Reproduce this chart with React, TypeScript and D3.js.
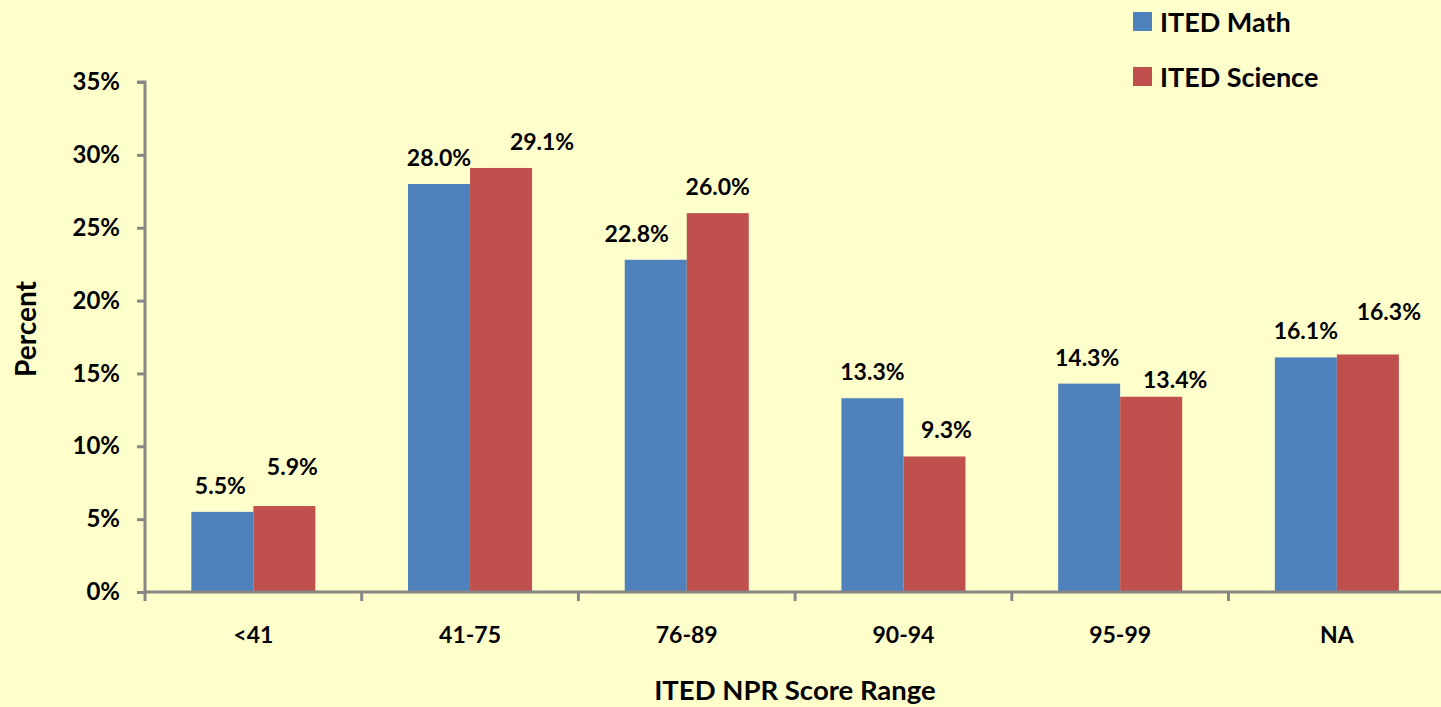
import React, { useEffect, useRef } from "react";
import * as d3 from "d3";

const categories = ["<41", "41-75", "76-89", "90-94", "95-99", "NA"];
const seriesNames = ["ITED Math", "ITED Science"];
const mathValues = [5.5, 28.0, 22.8, 13.3, 14.3, 16.1];
const scienceValues = [5.9, 29.1, 26.0, 9.3, 13.4, 16.3];
const yTicks = [0, 5, 10, 15, 20, 25, 30, 35];
const yTitle = "Percent";
const xTitle = "ITED NPR Score Range";

// label nudges (dx, dy in px) relative to the default above-bar placement
const mathLabelNudge: [number, number][] = [[-2, 0], [0, 0], [-19, 0], [0, 0], [-2, 0], [0, 0]];
const scienceLabelNudge: [number, number][] = [[8, -13], [41, 0], [0, 0], [12, 0], [24, 9], [21, -16]];

const W = 1441;
const H = 707;
const COLORS = ["#4F81BD", "#C0504D"];
const BG = "#FFFFCC";
const AXIS = "#868686";
const FONT = "Lato, 'Open Sans', sans-serif";

export default function App() {
  const ref = useRef<SVGSVGElement>(null);

  useEffect(() => {
    const svg = d3.select(ref.current);
    svg.selectAll("*").remove();

    const left = 145;
    const bottom = 592;
    const top = 82;
    const band = 216.7;

    const x = d3
      .scaleBand<string>()
      .domain(categories)
      .range([left, left + band * categories.length])
      .padding(0);
    const xs = d3
      .scaleBand<string>()
      .domain(seriesNames)
      .range([0, x.bandwidth()])
      .paddingInner(0)
      .paddingOuter(0.747);
    const y = d3.scaleLinear().domain([0, 35]).range([bottom, top]);

    svg.append("rect").attr("width", W).attr("height", H).attr("fill", BG);

    const series = [mathValues, scienceValues];
    const nudges = [mathLabelNudge, scienceLabelNudge];

    series.forEach((vals, si) => {
      const g = svg.append("g");
      g.selectAll("rect")
        .data(vals)
        .join("rect")
        .attr("x", (_, i) => (x(categories[i]) as number) + (xs(seriesNames[si]) as number))
        .attr("y", (d) => y(d))
        .attr("width", xs.bandwidth())
        .attr("height", (d) => bottom - y(d))
        .attr("fill", COLORS[si]);
    });

    series.forEach((vals, si) => {
      svg
        .append("g")
        .selectAll("text")
        .data(vals)
        .join("text")
        .attr(
          "x",
          (_, i) =>
            (x(categories[i]) as number) +
            (xs(seriesNames[si]) as number) +
            xs.bandwidth() / 2 +
            nudges[si][i][0]
        )
        .attr("y", (d, i) => y(d) - 27 + nudges[si][i][1])
        .attr("text-anchor", "middle")
        .attr("dominant-baseline", "central")
        .attr("font-family", FONT)
        .attr("font-weight", "bold")
        .attr("font-size", 23)
        .attr("fill", "#000")
        .text((d) => d.toFixed(1) + "%");
    });

    // Y axis
    const yAxis = d3
      .axisLeft(y)
      .tickValues(yTicks)
      .tickSize(8)
      .tickPadding(17)
      .tickFormat((d) => `${d}%`);
    const ya = svg.append("g").attr("transform", `translate(${left},0)`).call(yAxis);
    ya.select(".domain").attr("stroke", AXIS).attr("stroke-width", 3).attr("d", `M-8,${top}H0V${bottom}`);
    ya.selectAll(".tick line").attr("stroke", AXIS).attr("stroke-width", 3);
    ya.selectAll(".tick text")
      .attr("font-family", FONT)
      .attr("font-weight", "bold")
      .attr("font-size", 24)
      .attr("fill", "#000");

    // X axis
    const tickPos = d3.range(categories.length + 1).map((i) => left + i * x.step());
    const xa = svg.append("g");
    xa.append("line")
      .attr("x1", left)
      .attr("x2", left + x.step() * categories.length)
      .attr("y1", bottom)
      .attr("y2", bottom)
      .attr("stroke", AXIS)
      .attr("stroke-width", 3);
    xa.selectAll("line.tk")
      .data(tickPos)
      .join("line")
      .attr("class", "tk")
      .attr("x1", (d) => d)
      .attr("x2", (d) => d)
      .attr("y1", bottom)
      .attr("y2", bottom + 9)
      .attr("stroke", AXIS)
      .attr("stroke-width", 3);
    xa.selectAll("text")
      .data(categories)
      .join("text")
      .attr("x", (d) => (x(d) as number) + x.bandwidth() / 2)
      .attr("y", 634)
      .attr("text-anchor", "middle")
      .attr("dominant-baseline", "central")
      .attr("font-family", FONT)
      .attr("font-weight", "bold")
      .attr("font-size", 23)
      .attr("fill", "#000")
      .text((d) => d);

    // Titles
    svg
      .append("text")
      .attr("transform", `translate(25,329) rotate(-90)`)
      .attr("text-anchor", "middle")
      .attr("dominant-baseline", "central")
      .attr("font-family", FONT)
      .attr("font-weight", "bold")
      .attr("font-size", 28)
      .attr("fill", "#000")
      .text(yTitle);
    svg
      .append("text")
      .attr("x", 795)
      .attr("y", 689)
      .attr("text-anchor", "middle")
      .attr("dominant-baseline", "central")
      .attr("font-family", FONT)
      .attr("font-weight", "bold")
      .attr("font-size", 27.5)
      .attr("fill", "#000")
      .text(xTitle);

    // Legend
    const lg = svg.append("g").attr("transform", "translate(1133,12)");
    seriesNames.forEach((name, i) => {
      lg.append("rect")
        .attr("x", 0)
        .attr("y", i * 55)
        .attr("width", 19)
        .attr("height", 19)
        .attr("fill", COLORS[i]);
      lg.append("text")
        .attr("x", 27)
        .attr("y", i * 55 + 9.5)
        .attr("dominant-baseline", "central")
        .attr("font-family", FONT)
        .attr("font-weight", "bold")
        .attr("font-size", 27)
        .attr("fill", "#000")
        .text(name);
    });
  }, []);

  return (
    <svg
      ref={ref}
      width={W}
      height={H}
      style={{ position: "fixed", left: 0, top: 0, display: "block" }}
    />
  );
}
